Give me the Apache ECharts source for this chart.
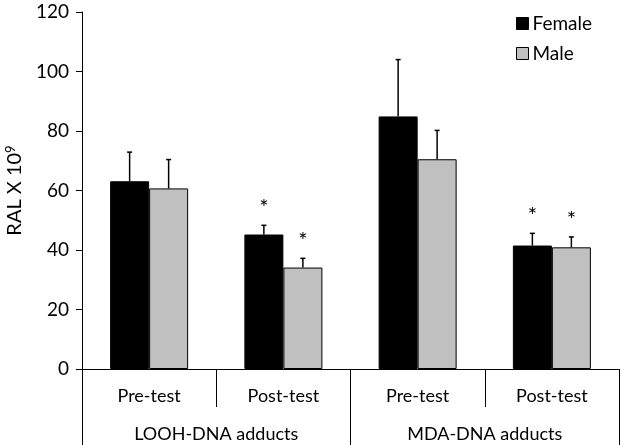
<!DOCTYPE html>
<html>
<head>
<meta charset="utf-8">
<script src="https://cdn.jsdelivr.net/npm/echarts@6/dist/echarts.min.js"></script>
<style>html,body{margin:0;padding:0;background:#fff}#c{width:622px;height:445px}</style>
</head>
<body>
<div id="c"></div>
<script>
var categories = ["Pre-test", "Post-test", "Pre-test", "Post-test"];
var groups = ["LOOH-DNA adducts", "MDA-DNA adducts"];
var seriesNames = ["Female", "Male"];
var femaleValues = [63.1, 45.2, 84.9, 41.5];
var maleValues = [60.7, 34.1, 70.5, 40.9];
var femaleErrorTop = [72.9, 48.3, 104.0, 45.6];
var maleErrorTop = [70.4, 37.2, 80.2, 44.4];
var femaleStar = [false, true, false, true];
var maleStar = [false, true, false, true];
var yTicks = [0, 20, 40, 60, 80, 100, 120];

var FONT = 'Lato';
var BAR_W = 39;

function errData(vals, tops, stars, sIdx) {
  return vals.map(function (v, i) { return [i, v, tops[i], stars[i] ? 1 : 0, sIdx]; });
}

function renderErr(params, api) {
  var cat = api.value(0);
  var top = api.value(2);
  var star = api.value(3);
  var sIdx = api.value(4);
  var base = api.coord([cat, api.value(1)]);
  var tp = api.coord([cat, top]);
  var x = base[0] + (sIdx === 0 ? -BAR_W / 2 : BAR_W / 2);
  var children = [
    {type: 'line', shape: {x1: x, y1: base[1], x2: x, y2: tp[1]}, style: {stroke: '#000', lineWidth: 1.5}},
    {type: 'line', shape: {x1: x - 2.5, y1: tp[1], x2: x + 2.5, y2: tp[1]}, style: {stroke: '#000', lineWidth: 1.5}}
  ];
  if (star) {
    children.push({type: 'text', style: {text: '*', x: x, y: tp[1] - 17, textAlign: 'center', textVerticalAlign: 'middle', font: '22px ' + FONT, fill: '#000'}});
  }
  return {type: 'group', children: children};
}

var chart = echarts.init(document.getElementById('c'));
chart.setOption({
  animation: false,
  backgroundColor: '#fff',
  grid: {left: 82, right: 3, top: 12, bottom: 76, containLabel: false, outerBoundsMode: 'none'},
  legend: {
    orient: 'vertical', left: 511, top: 9,
    itemWidth: 12, itemHeight: 12, itemGap: 11,
    icon: 'rect',
    data: seriesNames,
    itemStyle: {borderColor: '#000', borderWidth: 1},
    textStyle: {fontFamily: FONT, fontSize: 19, color: '#000', padding: [0, 0, 0, -1]}
  },
  xAxis: [
    {
      type: 'category', data: categories, position: 'bottom',
      axisLine: {lineStyle: {color: '#000', width: 1}},
      axisTick: {show: true, length: 38, lineStyle: {color: '#000'}},
      axisLabel: {margin: 18, fontFamily: FONT, fontSize: 18, color: '#000'}
    },
    {
      type: 'category', data: groups, position: 'bottom', gridIndex: 0,
      axisLine: {show: false},
      axisTick: {show: true, length: 76, lineStyle: {color: '#000'}},
      axisLabel: {margin: 56, fontFamily: FONT, fontSize: 18, color: '#000'}
    }
  ],
  yAxis: {
    type: 'value', min: yTicks[0], max: yTicks[yTicks.length - 1], interval: 20,
    name: 'RAL X 10{sup|9}', nameLocation: 'middle', nameGap: 52, nameRotate: 90,
    nameTextStyle: {fontFamily: FONT, fontSize: 20, color: '#000',
      rich: {sup: {fontFamily: FONT, fontSize: 13, verticalAlign: 'top', padding: [0, 0, 9, 0]}}},
    axisLine: {show: true, lineStyle: {color: '#000', width: 1}},
    axisTick: {show: true, length: 6, lineStyle: {color: '#000'}},
    axisLabel: {margin: 13, fontFamily: FONT, fontSize: 19, color: '#000'},
    splitLine: {show: false}
  },
  series: [
    {name: seriesNames[0], type: 'bar', data: femaleValues, barWidth: BAR_W, barGap: '0%',
      itemStyle: {color: '#000', borderColor: '#000', borderWidth: 1}},
    {name: seriesNames[1], type: 'bar', data: maleValues, barWidth: BAR_W, barGap: '0%',
      itemStyle: {color: '#c0c0c0', borderColor: '#000', borderWidth: 1}},
    {type: 'custom', renderItem: renderErr, data: errData(femaleValues, femaleErrorTop, femaleStar, 0), z: 5},
    {type: 'custom', renderItem: renderErr, data: errData(maleValues, maleErrorTop, maleStar, 1), z: 5}
  ]
});
</script>
</body>
</html>
